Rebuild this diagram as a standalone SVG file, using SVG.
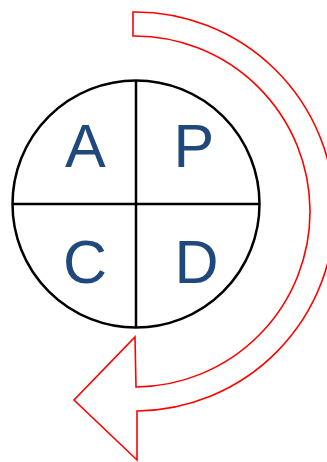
<svg xmlns="http://www.w3.org/2000/svg" width="327" height="462" viewBox="0 0 327 462">
<style>
.lbl{font-family:"Liberation Sans",Arial,sans-serif;font-size:61px;fill:#1F497D}
.ln{stroke:#000;stroke-width:2.5;fill:none}
</style>
<rect width="327" height="462" fill="#fff"/>
<g id="arrow">
<path d="M133,12 A199.5,199.5 0 0 1 137,411 L137,460 L74,400 L135,337 L136,387 A175.5,175.5 0 0 0 133,36 Z" fill="none" stroke="#FF0000" stroke-width="1.6" stroke-linejoin="miter"/>
</g>
<g id="circle">
<circle class="ln" cx="136" cy="204" r="123.5"/>
</g>
<g id="connectors">
<line class="ln" x1="136" y1="80" x2="136" y2="328"/>
<line class="ln" x1="12" y1="204" x2="260" y2="204"/>
</g>
<g id="A"><text class="lbl" x="65" y="167">A</text></g>
<g id="P"><text class="lbl" x="173.5" y="167">P</text></g>
<g id="C"><text class="lbl" x="63" y="283">C</text></g>
<g id="D"><text class="lbl" x="174.5" y="283">D</text></g>
</svg>
